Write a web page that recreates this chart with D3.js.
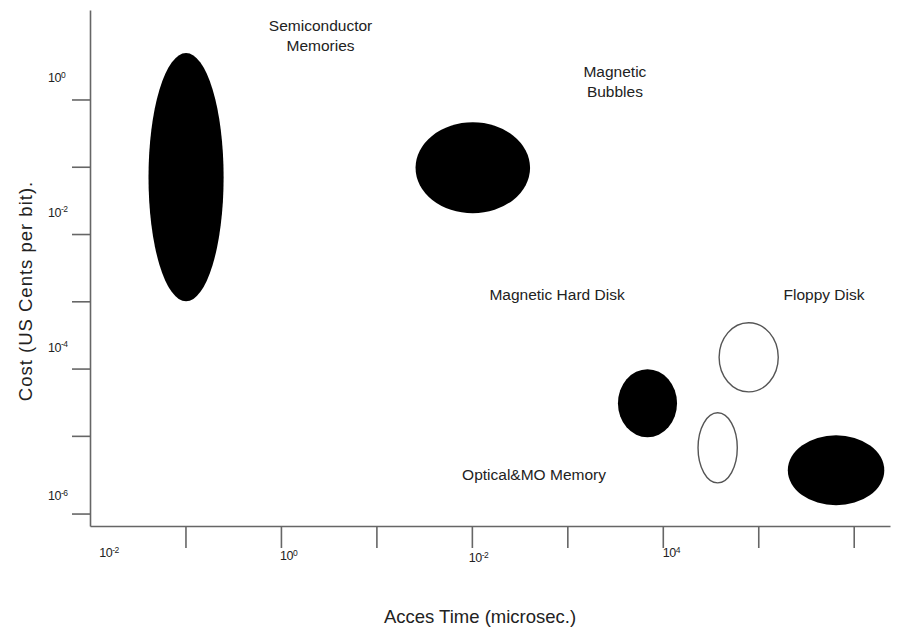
<!DOCTYPE html>
<html>
<head>
<meta charset="utf-8">
<script src="https://cdn.jsdelivr.net/npm/d3@7"></script>
<style>
  body { margin: 0; background: #fff; }
  svg text { font-family: "Liberation Sans", Arial, sans-serif; fill: #222; }
</style>
</head>
<body>
<div id="chart"></div>
<script>
// memory technologies: access time (microsec.) and cost (US cents per bit) ranges
var technologies = ["Semiconductor", "Bubbles", "Hard Disk", "Floppy", "Optical", "Tape"];
var accessMin = [0.041, 25.7, 3390, 38900, 23400, 204000];
var accessMax = [0.251, 407, 14100, 162000, 60300, 2090000];
var costMin   = [0.001, 0.0204, 0.0000095, 0.000045, 0.0000020, 0.00000093];
var costMax   = [4.9, 0.457, 0.000098, 0.00048, 0.000022, 0.0000102];
var filled    = [true, true, true, false, false, true];

// annotation texts and where they sit (access, cost)
var notes = [["Semiconductor", "Memories"], ["Magnetic", "Bubbles"], ["Magnetic Hard Disk"], ["Floppy Disk"], ["Optical&MO Memory"]];
var noteAccess = [2.6, 3150, 780, 488000, 448];
var noteCost = [10.4, 2.16, 0.00105, 0.00105, 0.0000022];

// tick marks and their labels
var xTicks = [1e-1, 1e0, 1e1, 1e2, 1e3, 1e4, 1e5, 1e6];
var xTickLabels = ["-2", "0", "-2", "4"];
var xLabelAt = [0.0125, 0.98, 93, 10000];
var yTicks = [1e0, 1e-1, 1e-2, 1e-3, 1e-4, 1e-5, 7e-7];
var yTickLabels = ["0", "-2", "-4", "-6"];
var yLabelAt = [2.15, 0.0215, 0.00021, 0.0000013];

var width = 902, height = 630;

var svg = d3.select("#chart")
    .append("svg")
    .attr("width", width)
    .attr("height", height);

var x = d3.scaleLog()
    .domain([1e-2, Math.pow(10, 6.38)])
    .range([90, 890]);

var y = d3.scaleLog()
    .domain([Math.pow(10, -6.34), Math.pow(10, 1.33)])
    .range([526, 10]);

// axes
var xAxis = d3.axisBottom(x).tickValues(xTicks).tickSize(22).tickFormat("").tickSizeOuter(0);
var yAxis = d3.axisLeft(y).tickValues(yTicks).tickSize(18).tickFormat("").tickSizeOuter(0);

svg.append("g")
    .attr("transform", "translate(0," + y.range()[0] + ")")
    .call(xAxis)
    .call(g => g.selectAll("path, line").attr("stroke", "#666").attr("stroke-width", 1.6));

svg.append("g")
    .attr("transform", "translate(" + x.range()[0] + ",0)")
    .call(yAxis)
    .call(g => g.selectAll("path, line").attr("stroke", "#666").attr("stroke-width", 1.6));

// power-of-ten labels
function powLabel(sel) {
  sel.append("tspan").text("10");
  sel.append("tspan").attr("dy", -4.5).attr("font-size", 8.5).text(d => d);
}

svg.selectAll(".xlab")
    .data(xTickLabels)
    .enter().append("text")
    .attr("class", "xlab")
    .attr("x", (d, i) => x(xLabelAt[i]))
    .attr("y", (d, i) => [557, 560, 562, 557][i])
    .attr("font-size", 12.5)
    .attr("letter-spacing", -0.5)
    .call(powLabel);

svg.selectAll(".ylab")
    .data(yTickLabels)
    .enter().append("text")
    .attr("class", "ylab")
    .attr("x", 48)
    .attr("y", (d, i) => y(yLabelAt[i]) + 5)
    .attr("font-size", 12.5)
    .attr("letter-spacing", -0.5)
    .call(powLabel);

// ellipses
svg.selectAll("ellipse")
    .data(technologies)
    .enter().append("ellipse")
    .attr("cx", (d, i) => (x(accessMin[i]) + x(accessMax[i])) / 2)
    .attr("cy", (d, i) => (y(costMin[i]) + y(costMax[i])) / 2)
    .attr("rx", (d, i) => (x(accessMax[i]) - x(accessMin[i])) / 2)
    .attr("ry", (d, i) => (y(costMin[i]) - y(costMax[i])) / 2)
    .attr("fill", (d, i) => filled[i] ? "#000" : "#fff")
    .attr("stroke", (d, i) => filled[i] ? "none" : "#555")
    .attr("stroke-width", 1.4);

// annotations
svg.selectAll(".note")
    .data(notes)
    .enter().append("text")
    .attr("class", "note")
    .attr("text-anchor", "middle")
    .attr("font-size", 15.5)
    .attr("transform", (d, i) => "translate(" + x(noteAccess[i]) + "," + y(noteCost[i]) + ")")
    .selectAll("tspan")
    .data(d => d)
    .enter().append("tspan")
    .attr("x", 0)
    .attr("dy", (d, i) => i === 0 ? 0 : 20)
    .text(d => d);

// axis titles
svg.append("text")
    .attr("text-anchor", "middle")
    .attr("font-size", 18.5)
    .attr("letter-spacing", 1)
    .attr("transform", "translate(32,291) rotate(-90)")
    .text("Cost (US Cents per bit).");

svg.append("text")
    .attr("text-anchor", "middle")
    .attr("font-size", 18.5)
    .attr("x", 480)
    .attr("y", 623)
    .text("Acces Time (microsec.)");
</script>
</body>
</html>
